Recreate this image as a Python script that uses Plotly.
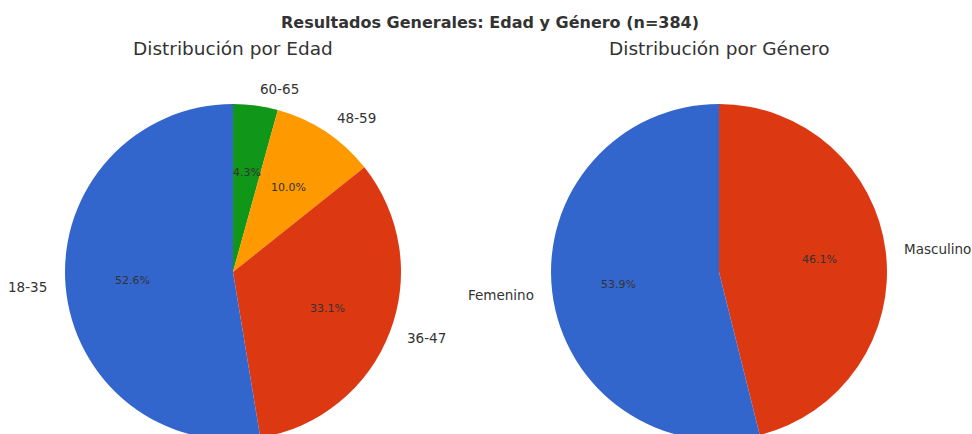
import math
import plotly.graph_objects as go

# ---- data ----
age_labels = ["18-35", "36-47", "48-59", "60-65"]
age_values = [52.6, 33.1, 10.0, 4.3]
age_colors = ["#3366CC", "#DC3912", "#FF9900", "#109618"]

gender_labels = ["Femenino", "Masculino"]
gender_values = [53.9, 46.1]
gender_colors = ["#3366CC", "#DC3912"]

main_title = "Resultados Generales: Edad y Género (n=384)"
sub_titles = ["Distribución por Edad", "Distribución por Género"]

# ---- layout geometry (pixels) ----
W, H = 972, 444
R = 168
centers = [(233, 272), (719, 272)]
FONT = "DejaVu Sans"

fig = go.Figure()
annotations = []


def px2paper(x, y):
    return x / W, 1 - y / H


for (cx, cy), labels, values, colors, title in zip(
    centers,
    [age_labels, gender_labels],
    [age_values, gender_values],
    [age_colors, gender_colors],
    sub_titles,
):
    # slices run counter-clockwise from 12 o'clock: drawn clockwise in reverse order
    fig.add_trace(go.Pie(
        labels=labels[::-1], values=values[::-1], sort=False, direction="clockwise",
        rotation=0, textinfo="none", showlegend=False,
        marker=dict(colors=colors[::-1], line=dict(width=0)),
        domain=dict(x=[(cx - R) / W, (cx + R) / W], y=[(H - cy - R) / H, (H - cy + R) / H]),
        hoverinfo="label+percent",
    ))
    total = sum(values)
    start = 90.0
    for lab, v in zip(labels, values):
        span = 360.0 * v / total
        mid = math.radians(start + span / 2)
        start += span
        # percentage at 0.6 R
        px, py = cx + 0.6 * R * math.cos(mid), cy - 0.6 * R * math.sin(mid)
        x, y = px2paper(px, py)
        annotations.append(dict(x=x, y=y, xref="paper", yref="paper", showarrow=False,
                                text=f"{100 * v / total:.1f}%", xanchor="center", yanchor="middle",
                                font=dict(family=FONT, size=11, color="#333333")))
        # label at 1.1 R
        lx, ly = cx + 1.1 * R * math.cos(mid), cy - 1.1 * R * math.sin(mid)
        x, y = px2paper(lx, ly)
        annotations.append(dict(x=x, y=y, xref="paper", yref="paper", showarrow=False,
                                text=lab, xanchor="left" if math.cos(mid) > 0 else "right",
                                yanchor="middle",
                                font=dict(family=FONT, size=13.5, color="#333333")))
    x, y = px2paper(cx, 49)
    annotations.append(dict(x=x, y=y, xref="paper", yref="paper", showarrow=False, text=title,
                            xanchor="center", yanchor="middle",
                            font=dict(family=FONT, size=18.5, color="#333333")))

x, y = px2paper(490, 22)
annotations.append(dict(x=x, y=y, xref="paper", yref="paper", showarrow=False,
                        text=f"<b>{main_title}</b>", xanchor="center", yanchor="middle",
                        font=dict(family=FONT, size=16, color="#333333")))

fig.update_layout(
    width=W, height=H,
    margin=dict(l=0, r=0, t=0, b=0),
    paper_bgcolor="white", plot_bgcolor="white",
    annotations=annotations,
)

fig.write_html(
    "out.html",
    config={"displayModeBar": False},
    post_script="document.body.style.margin='0';document.body.style.overflow='hidden';document.documentElement.style.overflow='hidden';",
)
